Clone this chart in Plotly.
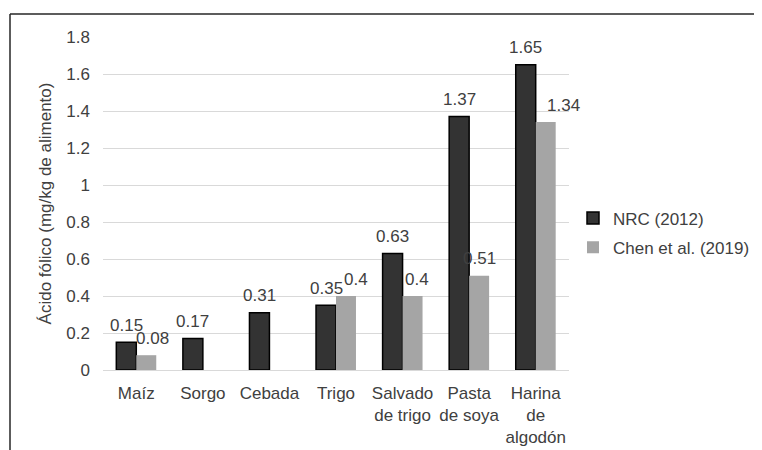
import plotly.graph_objects as go

categories = ["Maíz", "Sorgo", "Cebada", "Trigo", "Salvado<br>de trigo", "Pasta<br>de soya", "Harina<br>de<br>algodón"]
nrc_2012 = [0.15, 0.17, 0.31, 0.35, 0.63, 1.37, 1.65]
chen_2019 = [0.08, None, None, 0.4, 0.4, 0.51, 1.34]
y_ticks = [0, 0.2, 0.4, 0.6, 0.8, 1.0, 1.2, 1.4, 1.6, 1.8]
y_tick_text = ["0", "0.2", "0.4", "0.6", "0.8", "1", "1.2", "1.4", "1.6", "1.8"]

# style: horizontal nudges (px) of some Chen data labels, as placed in the original
chen_label_nudge = {"Maíz": 6, "Trigo": 10, "Salvado<br>de trigo": 4, "Harina<br>de<br>algodón": 18}

def fmt(v):
    return "%g" % v

FAM = "Liberation Sans, Arial, sans-serif"
FS = 17
TXT = "#404040"
font = dict(family=FAM, size=FS, color=TXT)

fig = go.Figure()
fig.add_trace(go.Bar(
    name="NRC (2012)", x=categories, y=nrc_2012, legendgroup="a",
    marker=dict(color="#333333", line=dict(color="#000000", width=1.5)),
))
fig.add_trace(go.Bar(
    name="Chen et al. (2019)", x=categories, y=chen_2019, legendgroup="b",
    marker=dict(color="#a5a5a5", line=dict(width=0)),
))

# page is offset by the 8px body margin
FW, FH = 754, 442
OFF = 8
L, T = 103 - OFF, 37 - OFF
R = FW - (569 - OFF)
B = FH - (370 - OFF)
W, H = FW - L - R, FH - T - B

def px(x):
    return (x - OFF - L) / W

def py(y):
    return (FH - B - (y - OFF)) / H

BAR_HALF = W / len(categories) * 0.6 / 4  # half of one bar's width, px

annotations = []
for series, sign, nudge in ((nrc_2012, -1, {}), (chen_2019, 1, chen_label_nudge)):
    for c, v in zip(categories, series):
        if v is None:
            continue
        annotations.append(dict(
            x=c, y=v, xref="x", yref="y", text=fmt(v), showarrow=False,
            xanchor="center", yanchor="middle",
            xshift=sign * BAR_HALF + nudge.get(c, 0), yshift=17,
            font=font,
        ))

fig.update_layout(
    width=FW, height=FH,
    margin=dict(l=L, r=R, t=T, b=B, autoexpand=False),
    paper_bgcolor="white", plot_bgcolor="white",
    font=font,
    barmode="group", bargap=0.4, bargroupgap=0,
    showlegend=True,
    legend=dict(x=px(573), y=py(233), xanchor="left", yanchor="middle",
                font=font, tracegroupgap=4, itemwidth=30,
                bgcolor="rgba(0,0,0,0)"),
    xaxis=dict(range=[-0.5, len(categories) - 0.5], autorange=False,
               showgrid=False, showline=False, ticks="", automargin=False,
               ticklabelstandoff=11, tickfont=font),
    yaxis=dict(range=[0, 1.8], autorange=False, tickvals=y_ticks, ticktext=y_tick_text,
               showgrid=True, gridcolor="#d9d9d9", gridwidth=1,
               zeroline=True, zerolinecolor="#d9d9d9", zerolinewidth=1,
               showline=False, ticks="", automargin=False,
               ticklabelstandoff=12, tickfont=font,
               title=dict(text="Ácido fólico (mg/kg de alimento)",
                          font=font, standoff=10)),
    annotations=annotations,
    shapes=[
        dict(type="line", xref="paper", yref="paper", x0=px(10), x1=px(775), y0=py(14), y1=py(14),
             line=dict(color="#262626", width=1.5)),
        dict(type="line", xref="paper", yref="paper", x0=px(10), x1=px(10), y0=py(14), y1=py(465),
             line=dict(color="#262626", width=1.5)),
    ],
)

fig.write_html("out.html")
